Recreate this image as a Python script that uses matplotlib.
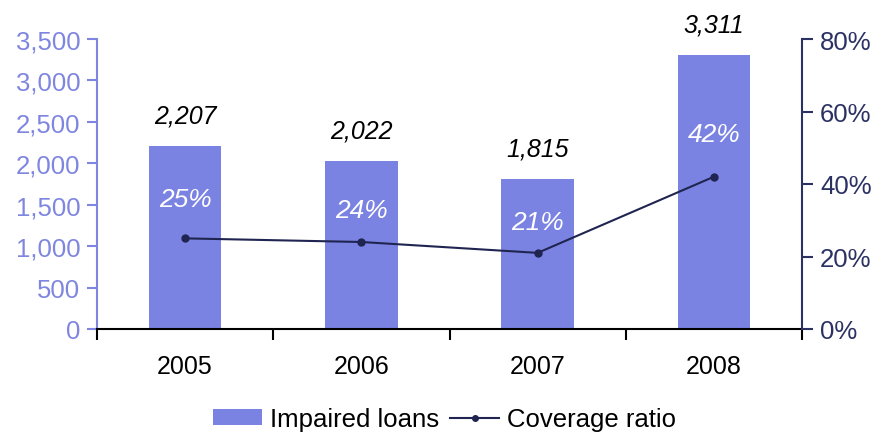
import numpy as np
import matplotlib.pyplot as plt
from matplotlib.lines import Line2D
from matplotlib.patches import Patch

plt.rcParams['font.family'] = ['Liberation Sans', 'DejaVu Sans']

years = ['2005', '2006', '2007', '2008']
impaired_loans = [2207, 2022, 1815, 3311]
coverage_ratio = [25, 24, 21, 42]

bar_color = '#7B83E2'
left_color = '#7F86E0'
right_color = '#2B3263'
line_color = '#1F2550'

fig = plt.figure(figsize=(8.73, 4.35), dpi=100)
ax = fig.add_axes([97 / 873, 105 / 435, 705 / 873, 290 / 435])
x = np.arange(len(years))

ax.bar(x, impaired_loans, width=0.41, color=bar_color, zorder=2)
ax.set_xlim(-0.5, 3.5)
ax.set_ylim(0, 3500)
ax.set_yticks(np.arange(0, 3501, 500))
ax.set_yticklabels([f'{v:,}' for v in range(0, 3501, 500)])

for s in ['top', 'right']:
    ax.spines[s].set_visible(False)
ax.spines['left'].set_color(left_color)
ax.spines['left'].set_linewidth(1.5)
ax.spines['bottom'].set_color('black')
ax.spines['bottom'].set_linewidth(1.5)
ax.tick_params(axis='y', colors=left_color, labelsize=18.5, length=7, width=1.5, pad=5)

# year labels centred under bars, ticks on category boundaries
ax.set_xticks(x)
ax.set_xticklabels(years)
ax.set_xticks(np.arange(-0.5, 4, 1), minor=True)
ax.tick_params(axis='x', which='major', length=0, labelsize=18, pad=18)
ax.tick_params(axis='x', which='minor', length=8, width=1.5, color='black')

for xi, v, r in zip(x, impaired_loans, coverage_ratio):
    ax.annotate(f'{v:,}', (xi, v), xytext=(0, 22), textcoords='offset points',
                ha='center', va='center', fontsize=18, style='italic', color='black')
    ax.text(xi, v * 0.71, f'{r}%', ha='center', va='center', fontsize=19,
            style='italic', color='white', zorder=4)

ax2 = ax.twinx()
ax2.plot(x, coverage_ratio, color=line_color, lw=1.5, marker='o', ms=5, zorder=3)
ax2.set_ylim(0, 80)
ax2.set_yticks(range(0, 81, 20))
ax2.set_yticklabels([f'{v}%' for v in range(0, 81, 20)])
for s in ['top', 'left', 'bottom']:
    ax2.spines[s].set_visible(False)
ax2.spines['right'].set_color(right_color)
ax2.spines['right'].set_linewidth(1.5)
ax2.tick_params(axis='y', colors=right_color, labelsize=18.5, length=8, width=1.5, pad=5)

handles = [Patch(facecolor=bar_color, edgecolor='none'),
           Line2D([0], [0], color=line_color, lw=1.5, marker='o', ms=4)]
fig.legend(handles, ['Impaired loans', 'Coverage ratio'], loc='center',
           bbox_to_anchor=(0.509, 0.034), ncol=2, frameon=False, fontsize=18.5,
           handlelength=1.9, handleheight=0.6, handletextpad=0.3, columnspacing=0.45)

fig.savefig('out.png', dpi=100)
